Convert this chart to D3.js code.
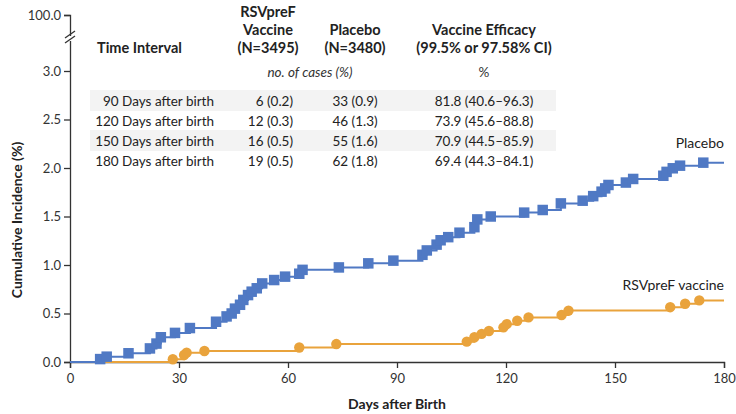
<!DOCTYPE html>
<html><head><meta charset="utf-8">
<script src="https://cdn.jsdelivr.net/npm/d3@7"></script>
<style>
html,body{margin:0;padding:0;background:#fff;}
svg{display:block;font-family:Lato,"Open Sans",sans-serif;}
</style></head>
<body><svg id="c" width="736" height="414"></svg>
<script>
// ---- data ----
const placeboDays = [8.3, 10.1, 16.1, 22, 23.8, 25, 28.9, 33, 40.2, 43.1, 44.5, 45.4, 46.8, 47.7, 49, 50, 51.4, 52.9, 56.2, 59.2, 63.1, 64, 74, 82.1, 89, 97, 98.2, 100.9, 102, 104.1, 107.2, 111.3, 112.1, 115.8, 125, 130.1, 135.1, 141.1, 144, 146.3, 147.3, 148.2, 153, 155, 163.3, 164.2, 165.9, 167.9, 174.3];
const placeboVals = [0.03, 0.055, 0.09, 0.14, 0.19, 0.255, 0.30, 0.35, 0.415, 0.47, 0.50, 0.55, 0.59, 0.64, 0.69, 0.725, 0.76, 0.81, 0.845, 0.88, 0.91, 0.95, 0.975, 1.017, 1.045, 1.105, 1.15, 1.21, 1.255, 1.287, 1.333, 1.39, 1.47, 1.50, 1.54, 1.567, 1.635, 1.663, 1.71, 1.756, 1.79, 1.825, 1.85, 1.887, 1.92, 1.96, 1.997, 2.024, 2.055];
const vaccineDays = [28.3, 31.4, 32.1, 37, 63.1, 73.3, 109.2, 111.3, 113.3, 115.3, 119.3, 120.2, 123.1, 126.2, 135.3, 137.2, 165.2, 169.3, 173.2];
const vaccineVals = [0.028, 0.072, 0.096, 0.113, 0.15, 0.185, 0.21, 0.255, 0.29, 0.32, 0.357, 0.39, 0.425, 0.46, 0.485, 0.53, 0.565, 0.60, 0.635];
const xTicks = [0, 30, 60, 90, 120, 150, 180];
const yTicks = [0, 0.5, 1.0, 1.5, 2.0, 2.5, 3.0, 100.0];
const tableIntervals = ["90 Days after birth", "120 Days after birth", "150 Days after birth", "180 Days after birth"];
const tableVaccine = ["6 (0.2)", "12 (0.3)", "16 (0.5)", "19 (0.5)"];
const tablePlacebo = ["33 (0.9)", "46 (1.3)", "55 (1.6)", "62 (1.8)"];
const tableEfficacy = ["81.8 (40.6\u201396.3)", "73.9 (45.6\u201388.8)", "70.9 (44.5\u201385.9)", "69.4 (44.3\u201384.1)"];

// ---- chart ----
const svg = d3.select("#c");
const blue = "#5079c4", orange = "#e9a33c", axisCol = "#333";
const x = d3.scaleLinear().domain([0, 180]).range([70, 724]);
const y = d3.scaleLinear().domain([0, 3, 3.35, 100]).range([362, 71, 40, 15]);

// table shading
const rowY = [101, 121, 141, 161];
svg.selectAll("rect.band").data([0, 2]).join("rect")
  .attr("x", 90).attr("width", 466).attr("y", i => rowY[i] - 11).attr("height", 21)
  .attr("fill", "#f3f3f3");

// header
const hdr = svg.append("g").attr("font-weight", "bold").attr("font-size", 14.5).attr("fill", "#222");
hdr.append("text").attr("x", 97).attr("y", 53).text("Time Interval");
[["RSVpreF", 17], ["Vaccine", 35], ["(N=3495)", 53]].forEach(([t, yy]) =>
  hdr.append("text").attr("x", 268).attr("y", yy).attr("text-anchor", "middle").text(t));
[["Placebo", 35], ["(N=3480)", 53]].forEach(([t, yy]) =>
  hdr.append("text").attr("x", 355).attr("y", yy).attr("text-anchor", "middle").text(t));
[["Vaccine Efficacy", 35], ["(99.5% or 97.58% CI)", 53]].forEach(([t, yy]) =>
  hdr.append("text").attr("x", 484).attr("y", yy).attr("text-anchor", "middle").text(t));
svg.append("text").attr("x", 310).attr("y", 77).attr("text-anchor", "middle")
  .attr("font-style", "italic").attr("font-size", 13.5).attr("fill", "#333").text("no. of cases (%)");
svg.append("text").attr("x", 484).attr("y", 77).attr("text-anchor", "middle")
  .attr("font-size", 13.5).attr("fill", "#333").text("%");

const body = svg.append("g").attr("font-size", 13.5).attr("fill", "#222");
tableIntervals.forEach((t, i) => {
  body.append("text").attr("x", 214).attr("y", rowY[i] + 5).attr("text-anchor", "end").text(t);
  body.append("text").attr("x", 293).attr("y", rowY[i] + 5).attr("text-anchor", "end").text(tableVaccine[i]);
  body.append("text").attr("x", 355).attr("y", rowY[i] + 5).attr("text-anchor", "middle").text(tablePlacebo[i]);
  body.append("text").attr("x", 484).attr("y", rowY[i] + 5).attr("text-anchor", "middle").text(tableEfficacy[i]);
});

// axes
const yAxis = svg.append("g").attr("transform", "translate(70,0)")
  .call(d3.axisLeft(y).tickValues(yTicks).tickFormat(d3.format(".1f")).tickSize(6).tickPadding(3));
const xAxis = svg.append("g").attr("transform", "translate(0,362)")
  .call(d3.axisBottom(x).tickValues(xTicks).tickSize(6).tickPadding(6));
[yAxis, xAxis].forEach(a => {
  a.select(".domain").attr("stroke", axisCol).attr("stroke-width", 1.3);
  a.selectAll(".tick line").attr("stroke", axisCol).attr("stroke-width", 1.3);
  a.selectAll("text").attr("font-size", 13).attr("fill", "#333").attr("font-family", "Lato,sans-serif");
});
// axis break marks
svg.append("rect").attr("x", 64).attr("y", 36).attr("width", 12).attr("height", 5).attr("fill", "#fff");
[35, 40].forEach(yy => svg.append("line").attr("x1", 65).attr("x2", 75).attr("y1", yy + 3).attr("y2", yy - 4)
  .attr("stroke", axisCol).attr("stroke-width", 1.3));
// small tick to right at 0
svg.append("line").attr("x1", 70).attr("x2", 75).attr("y1", 362).attr("y2", 362).attr("stroke", axisCol).attr("stroke-width", 1.3);

// axis titles
svg.append("text").attr("transform", "translate(22,220) rotate(-90)").attr("text-anchor", "middle")
  .attr("font-weight", "bold").attr("font-size", 14).attr("fill", "#222").text("Cumulative Incidence (%)");
svg.append("text").attr("x", 397).attr("y", 409).attr("text-anchor", "middle")
  .attr("font-weight", "bold").attr("font-size", 14).attr("fill", "#222").text("Days after Birth");

// curves
const line = d3.line().x(d => x(d[0])).y(d => y(d[1])).curve(d3.curveStepAfter);
function series(days, vals, color, shape) {
  const pts = days.map((d, i) => [d, vals[i]]);
  const full = [[0, 0], ...pts, [180, vals[vals.length - 1]]];
  svg.append("path").datum(full).attr("d", line).attr("fill", "none")
    .attr("stroke", color).attr("stroke-width", 2);
  const g = svg.append("g").attr("fill", color);
  if (shape === "square") {
    g.selectAll("rect").data(pts).join("rect")
      .attr("x", d => x(d[0]) - 5.25).attr("y", d => y(d[1]) - 5.25).attr("width", 10.5).attr("height", 10.5);
  } else {
    g.selectAll("circle").data(pts).join("circle")
      .attr("cx", d => x(d[0])).attr("cy", d => y(d[1])).attr("r", 5.2);
  }
}
series(vaccineDays, vaccineVals, orange, "circle");
series(placeboDays, placeboVals, blue, "square");

// labels
svg.append("text").attr("x", 724).attr("y", 148).attr("text-anchor", "end")
  .attr("font-size", 14).attr("fill", "#222").text("Placebo");
svg.append("text").attr("x", 724).attr("y", 290).attr("text-anchor", "end")
  .attr("font-size", 14).attr("fill", "#222").text("RSVpreF vaccine");
</script></body></html>
